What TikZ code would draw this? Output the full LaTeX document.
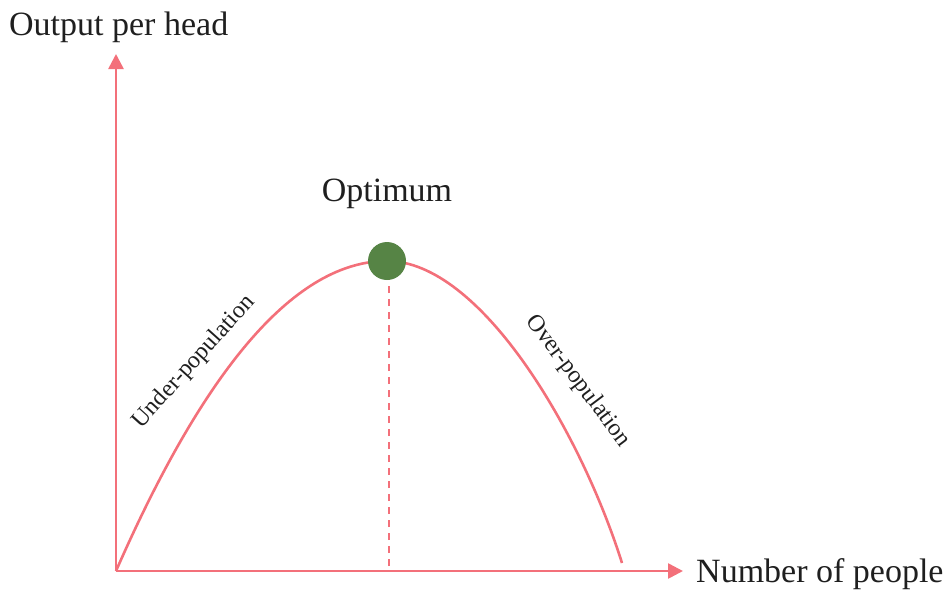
\documentclass[tikz,border=0pt]{standalone}
\usepackage{fontspec}
\setmainfont{Liberation Serif}
\usetikzlibrary{arrows.meta}
\definecolor{curvecol}{RGB}{243,112,122}
\definecolor{dotcol}{RGB}{86,132,69}
\tikzset{
  axis/.style={draw=curvecol, line width=2.6pt, -{Triangle[length=15pt,width=15pt]}},
  curveline/.style={draw=curvecol, line width=2.6pt},
  bigtext/.style={font=\fontsize{34}{40}\selectfont, text=black!88, inner sep=0pt},
  smalltext/.style={font=\fontsize{24}{28}\selectfont, text=black!88, inner sep=0pt},
}
\begin{document}
\begin{tikzpicture}[x=1pt,y=-1pt]
\useasboundingbox (0,0) rectangle (946,590);
\coordinate (O) at (116,571);
\coordinate (ytip) at (116,54);
\coordinate (xtip) at (683,571);
\coordinate (peak) at (387,261);
\coordinate (cend) at (622,563);
\coordinate (dashbot) at (389,566);
\draw[axis] (O) -- (ytip);
\draw[axis] (O) -- (xtip);
\draw[curveline] (O) .. controls (206.3,365) and (296.7,261) .. (peak)
  .. controls (480,261) and (580,430) .. (cend);
\draw[curveline, dashed, dash pattern=on 7pt off 6pt] (dashbot) -- (389,278);
\node[circle, fill=dotcol, minimum size=38pt, inner sep=0pt] (dot) at (peak) {};
\node[bigtext] (opt) at (387,194) {Optimum};
\node[bigtext, anchor=west] (ylab) at (9,27) {Output per head};
\node[bigtext, anchor=west] (xlab) at (696,574) {Number of people};
\node[smalltext, rotate=48] (under) at (194,362) {Under-population};
\node[smalltext, rotate=-53] (over) at (578,381) {Over-population};
\end{tikzpicture}
\end{document}
